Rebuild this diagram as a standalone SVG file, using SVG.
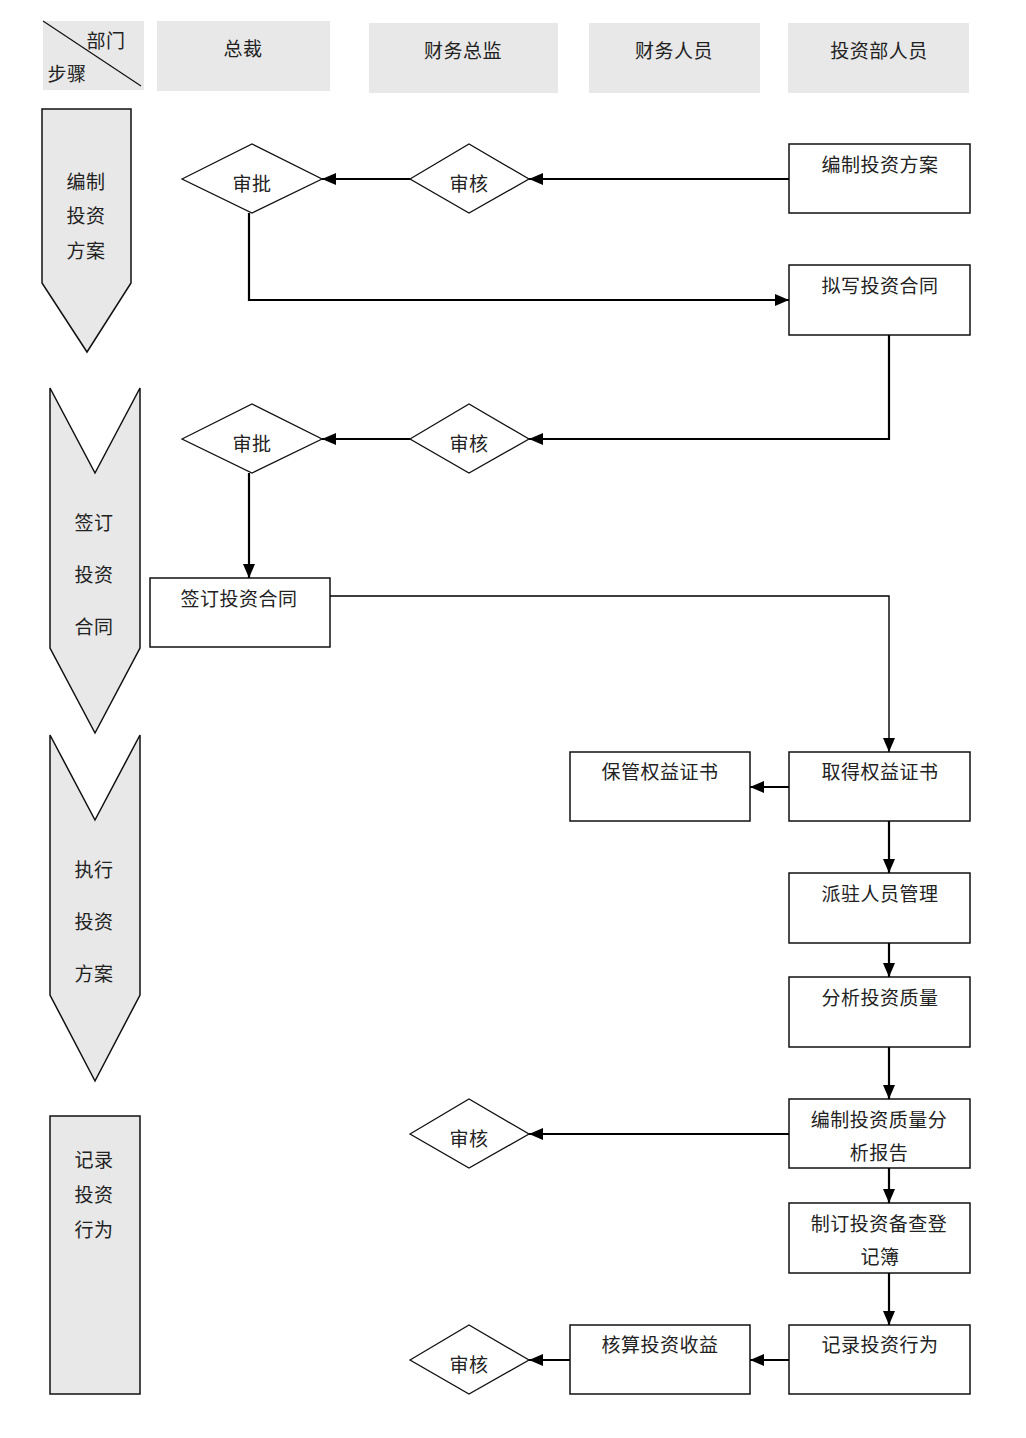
<svg xmlns="http://www.w3.org/2000/svg" width="1026" height="1438" viewBox="0 0 1026 1438">
<style>
text{font-family:"Liberation Serif","Noto Sans CJK SC",serif;font-size:19px;fill:#222;text-anchor:middle;letter-spacing:0.5px}
.hdr{fill:#e8e8e8;stroke:none}
.step{fill:#e8e8e8;stroke:#111;stroke-width:1.5}
.box{fill:#fff;stroke:#111;stroke-width:1.5}
.dia{fill:#fff;stroke:#111;stroke-width:1.3}
.con{fill:none;stroke:#000;stroke-width:2.2}
.thin{fill:none;stroke:#000;stroke-width:1.4}
</style>
<defs>
<marker id="ah" markerUnits="userSpaceOnUse" markerWidth="14" markerHeight="12" refX="14" refY="6" orient="auto">
<path d="M0,0 L14,6 L0,12 z" fill="#000"/>
</marker>
</defs>
<rect width="1026" height="1438" fill="#fff"/>

<g id="headers">
<g id="h-corner"><rect class="hdr" x="43" y="21" width="101" height="69"/><line x1="43" y1="21" x2="141" y2="86" stroke="#111" stroke-width="1.2"/><text x="106" y="48">部门</text><text x="67" y="81">步骤</text></g>
<g id="h-zongcai"><rect class="hdr" x="157" y="21" width="173" height="70"/><text x="243" y="56">总裁</text></g>
<g id="h-cwzj"><rect class="hdr" x="369" y="23" width="189" height="70"/><text x="463" y="58">财务总监</text></g>
<g id="h-cwry"><rect class="hdr" x="589" y="23" width="171" height="70"/><text x="674" y="58">财务人员</text></g>
<g id="h-tzry"><rect class="hdr" x="788" y="23" width="181" height="70"/><text x="879" y="58">投资部人员</text></g>
</g>

<g id="step1"><polygon class="step" points="42,109 131,109 131,283 87,352 42,283"/><text x="86" y="189">编制</text><text x="86" y="223">投资</text><text x="86" y="258">方案</text></g>
<g id="step2"><polygon class="step" points="50,388 95,473 140,388 140,648 95,733 50,648"/><text x="94" y="530">签订</text><text x="94" y="582">投资</text><text x="94" y="634">合同</text></g>
<g id="step3"><polygon class="step" points="50,735 95,820 140,735 140,995 95,1081 50,995"/><text x="94" y="877">执行</text><text x="94" y="929">投资</text><text x="94" y="981">方案</text></g>
<g id="step4"><rect class="step" x="50" y="1116" width="90" height="278"/><text x="94" y="1167">记录</text><text x="94" y="1202">投资</text><text x="94" y="1237">行为</text></g>

<g id="d-shenpi1"><polygon class="dia" points="182,179 252,144 322,179 252,213"/><text x="252" y="191">审批</text></g>
<g id="d-shenhe1"><polygon class="dia" points="410,179 469,144 529,179 469,213"/><text x="469" y="191">审核</text></g>
<g id="d-shenpi2"><polygon class="dia" points="182,439 252,404 322,439 252,473"/><text x="252" y="451">审批</text></g>
<g id="d-shenhe2"><polygon class="dia" points="410,439 469,404 529,439 469,473"/><text x="469" y="451">审核</text></g>
<g id="d-shenhe3"><polygon class="dia" points="410,1134 469,1099 529,1134 469,1168"/><text x="469" y="1146">审核</text></g>
<g id="d-shenhe4"><polygon class="dia" points="410,1360 469,1325 529,1360 469,1394"/><text x="469" y="1372">审核</text></g>

<g id="b-bianzhi"><rect class="box" x="789" y="144" width="181" height="69"/><text x="880" y="172">编制投资方案</text></g>
<g id="b-nixie"><rect class="box" x="789" y="265" width="181" height="70"/><text x="880" y="293">拟写投资合同</text></g>
<g id="b-qianding"><rect class="box" x="150" y="578" width="180" height="69"/><text x="239" y="606">签订投资合同</text></g>
<g id="b-baoguan"><rect class="box" x="570" y="752" width="180" height="69"/><text x="660" y="779">保管权益证书</text></g>
<g id="b-qude"><rect class="box" x="789" y="752" width="181" height="69"/><text x="880" y="779">取得权益证书</text></g>
<g id="b-paizhu"><rect class="box" x="789" y="873" width="181" height="70"/><text x="880" y="901">派驻人员管理</text></g>
<g id="b-fenxi"><rect class="box" x="789" y="977" width="181" height="70"/><text x="880" y="1005">分析投资质量</text></g>
<g id="b-baogao"><rect class="box" x="789" y="1099" width="181" height="69"/><text x="879" y="1127">编制投资质量分</text><text x="879" y="1160">析报告</text></g>
<g id="b-beicha"><rect class="box" x="789" y="1203" width="181" height="70"/><text x="879" y="1231">制订投资备查登</text><text x="880" y="1264">记簿</text></g>
<g id="b-hesuan"><rect class="box" x="570" y="1325" width="180" height="69"/><text x="660" y="1352">核算投资收益</text></g>
<g id="b-jilu"><rect class="box" x="789" y="1325" width="181" height="69"/><text x="880" y="1352">记录投资行为</text></g>

<g id="connectors">
<path class="con" d="M789,179 L529,179" marker-end="url(#ah)"/>
<path class="con" d="M410,179 L322,179" marker-end="url(#ah)"/>
<path class="con" d="M249,213 L249,300 L789,300" marker-end="url(#ah)"/>
<path class="con" d="M889,335 L889,439 L529,439" marker-end="url(#ah)"/>
<path class="con" d="M410,439 L322,439" marker-end="url(#ah)"/>
<path class="con" d="M249,473 L249,578" marker-end="url(#ah)"/>
<path class="thin" d="M330,596 L889,596 L889,752" marker-end="url(#ah)"/>
<path class="con" d="M789,787 L750,787" marker-end="url(#ah)"/>
<path class="con" d="M889,821 L889,873" marker-end="url(#ah)"/>
<path class="con" d="M889,943 L889,977" marker-end="url(#ah)"/>
<path class="con" d="M889,1047 L889,1099" marker-end="url(#ah)"/>
<path class="con" d="M789,1134 L529,1134" marker-end="url(#ah)"/>
<path class="con" d="M889,1168 L889,1203" marker-end="url(#ah)"/>
<path class="con" d="M889,1273 L889,1325" marker-end="url(#ah)"/>
<path class="con" d="M789,1360 L750,1360" marker-end="url(#ah)"/>
<path class="con" d="M570,1360 L529,1360" marker-end="url(#ah)"/>
</g>
</svg>
